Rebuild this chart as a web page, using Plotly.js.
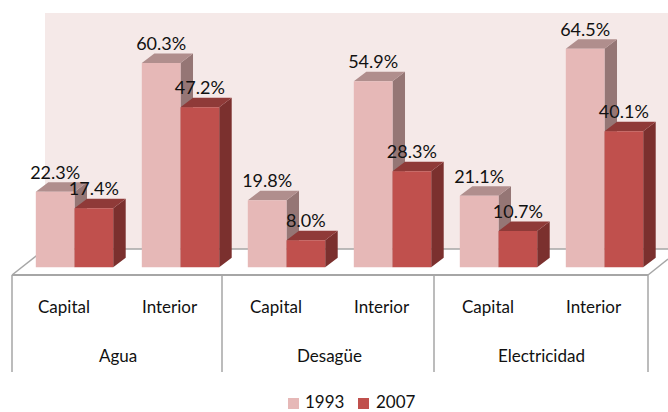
<!DOCTYPE html>
<html>
<head>
<meta charset="utf-8">
<script src="https://cdn.plot.ly/plotly-3.0.1.min.js"></script>
<style>html,body{margin:0;padding:0;background:#fff}#c{width:668px;height:412px}</style>
</head>
<body>
<div id="c"></div>
<script>
const groups = ["Agua", "Desagüe", "Electricidad"];
const places = ["Capital", "Interior", "Capital", "Interior", "Capital", "Interior"];
const seriesNames = ["1993", "2007"];
const v1993 = [22.3, 60.3, 19.8, 54.9, 21.1, 64.5];
const v2007 = [17.4, 47.2, 8.0, 28.3, 10.7, 40.1];

const W = 668, H = 412;
const px = x => x / W, py = y => 1 - y / H;
const idx = places.map((_, i) => i);
const xRange = [-74.5 / 106, (W - 74.5) / 106];
const yRange = [(267.3 - H) / 3.39, 267.3 / 3.39];
const barW = 0.365, dx = 0.118, dy = 2.8, lift = 5.2;
const font = "Lato, Carlito, Calibri, sans-serif";
const fmt = v => v.toFixed(1) + "%";

function poly(vals, off, kind) {
  const X = [], Y = [];
  vals.forEach((v, i) => {
    const l = i + off, r = l + barW;
    if (kind === "side") {
      X.push(r, r + dx, r + dx, r, r, null);
      Y.push(0, dy, v + dy, v, 0, null);
    } else {
      X.push(l, l + dx, r + dx, r, l, null);
      Y.push(v, v + dy, v + dy, v, v, null);
    }
  });
  return {x: X, y: Y, type: "scatter", mode: "lines", fill: "toself",
    line: {width: 0}, hoverinfo: "skip", showlegend: false, xaxis: "x", yaxis: "y"};
}
function colored(t, c) { t.fillcolor = c; return t; }

const traces = [
  colored(poly(v1993, -barW, "side"), "#957675"),
  colored(poly(v1993, -barW, "top"), "#B08E8D"),
  colored(poly(v2007, 0, "side"), "#7B302E"),
  colored(poly(v2007, 0, "top"), "#8F3A38"),
  {type: "bar", name: seriesNames[0], x: idx, y: v1993, marker: {color: "#E6B8B7"}, xaxis: "x2", yaxis: "y2", showlegend: false},
  {type: "bar", name: seriesNames[1], x: idx, y: v2007, marker: {color: "#C0504D"}, xaxis: "x2", yaxis: "y2", showlegend: false},
  {type: "scatter", mode: "text", x: idx.map(i => i - barW / 2), y: v1993.map(v => v + lift), text: v1993.map(fmt),
   textposition: "middle center", textfont: {family: font, size: 18, color: "#111"}, xaxis: "x2", yaxis: "y2", showlegend: false, hoverinfo: "skip"},
  {type: "scatter", mode: "text", x: idx.map(i => i + barW / 2), y: v2007.map(v => v + lift), text: v2007.map(fmt),
   textposition: "middle center", textfont: {family: font, size: 18, color: "#111"}, xaxis: "x2", yaxis: "y2", showlegend: false, hoverinfo: "skip"}
];

const gray = "#A6A6A6";
const line = (x0, y0, x1, y1, w) => ({type: "line", xref: "paper", yref: "paper", x0: px(x0), y0: py(y0), x1: px(x1), y1: py(y1),
  line: {color: gray, width: w || 1.5}, layer: "below"});
const rect = (x0, y0, x1, y1, c) => ({type: "rect", xref: "paper", yref: "paper", x0: px(x0), y0: py(y0), x1: px(x1), y1: py(y1),
  fillcolor: c, line: {width: 0}, layer: "below"});

const shapes = [
  rect(45, 13, 668, 249, "#F5E9E8"),
  line(45, 249, 668, 249),
  line(12, 275, 45, 249),
  line(12, 275, 648, 275, 2),
  line(648, 275, 668, 259),
  line(12, 275, 12, 372), line(222, 275, 222, 372), line(434, 275, 434, 372), line(648, 275, 648, 372),
  rect(288, 398, 299, 409, "#E6B8B7"),
  rect(358, 398, 369, 409, "#C0504D")
];

const label = (text, x, y, anchor, extra) => Object.assign({text, x: px(x), y: py(y), xref: "paper", yref: "paper", showarrow: false,
  xanchor: anchor || "center", yanchor: "middle", font: {family: font, size: 17, color: "#111"}}, extra || {});
const annotations = [
  ...places.map((p, i) => label(p, 74.5 + 106 * i - 10.5, 306)),
  ...groups.map((g, i) => label(g, 117.5 + 212 * i, 355)),
  label(seriesNames[0], 304, 401.5, "left", {borderpad: 0}),
  label(seriesNames[1], 375, 401.5, "left", {borderpad: 0})
];

const ax = r => ({range: r, visible: false, fixedrange: true});
const layout = {
  width: W, height: H, margin: {l: 0, r: 0, t: 0, b: 0},
  paper_bgcolor: "#fff", plot_bgcolor: "rgba(0,0,0,0)", showlegend: false,
  barmode: "group", bargap: 0.27, bargroupgap: 0,
  xaxis: ax(xRange), yaxis: ax(yRange),
  xaxis2: Object.assign(ax(xRange), {overlaying: "x"}),
  yaxis2: Object.assign(ax(yRange), {overlaying: "y"}),
  shapes, annotations
};
Plotly.newPlot("c", traces, layout, {displayModeBar: false, staticPlot: true});
</script>
</body>
</html>
